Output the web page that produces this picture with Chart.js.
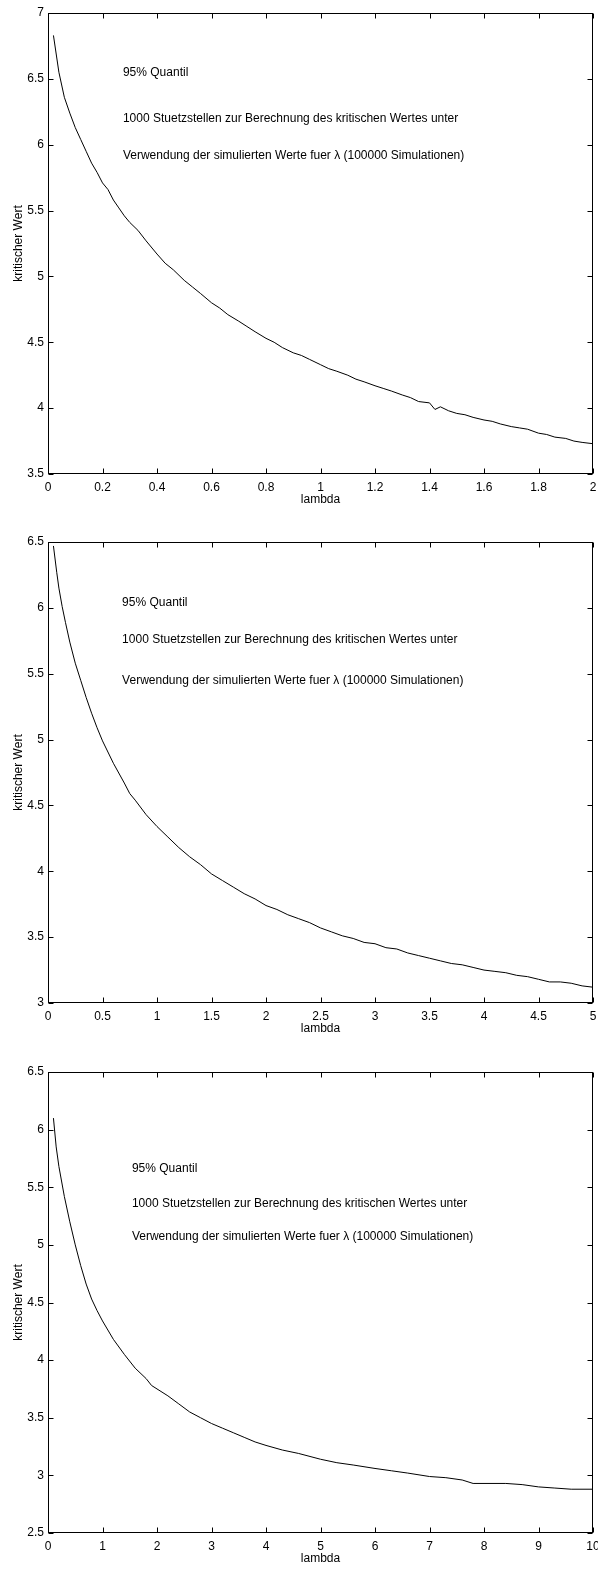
<!DOCTYPE html>
<html lang="de">
<head>
<meta charset="UTF-8">
<title>kritischer Wert</title>
<script src="https://cdn.jsdelivr.net/npm/chart.js"></script>
<style>
    body { margin: 0; background: #fff; }
    .panel { position: absolute; left: 0; width: 598px; height: 511px; }
</style>
</head>
<body>
<div class="panel" style="top:0px"><canvas id="c1" width="598" height="511"></canvas></div>
<div class="panel" style="top:529px"><canvas id="c2" width="598" height="511"></canvas></div>
<div class="panel" style="top:1059px"><canvas id="c3" width="598" height="511"></canvas></div>
<script>
// panel 1: lambda 0..2
const lam1 = [0.02, 0.04, 0.06, 0.08, 0.10, 0.12, 0.14, 0.16, 0.18, 0.20, 0.22, 0.24, 0.26, 0.28, 0.30, 0.33, 0.36, 0.40, 0.43, 0.46,
    0.50, 0.53, 0.56, 0.60, 0.63, 0.66, 0.70, 0.73, 0.76, 0.80, 0.83, 0.86, 0.90, 0.93, 0.96, 1.00, 1.03, 1.06, 1.10, 1.13,
    1.16, 1.20, 1.23, 1.26, 1.30, 1.33, 1.36, 1.40, 1.42, 1.44, 1.47, 1.50, 1.53, 1.56, 1.60, 1.63, 1.66, 1.70, 1.73, 1.76,
    1.80, 1.83, 1.86, 1.90, 1.93, 1.96, 2.00];
const krit1 = [6.83, 6.55, 6.36, 6.24, 6.13, 6.04, 5.95, 5.86, 5.79, 5.71, 5.66, 5.58, 5.52, 5.46, 5.41, 5.35, 5.27, 5.17, 5.10, 5.05,
    4.97, 4.92, 4.87, 4.80, 4.76, 4.71, 4.66, 4.62, 4.58, 4.53, 4.50, 4.46, 4.42, 4.40, 4.37, 4.33, 4.30, 4.28, 4.25, 4.22,
    4.20, 4.17, 4.15, 4.13, 4.10, 4.08, 4.05, 4.04, 3.99, 4.01, 3.98, 3.96, 3.95, 3.93, 3.91, 3.90, 3.88, 3.86, 3.85, 3.84,
    3.81, 3.80, 3.78, 3.77, 3.75, 3.74, 3.73];

// panel 2: lambda 0..5
const lam2 = [0.05, 0.08, 0.1, 0.13, 0.16, 0.2, 0.25, 0.3, 0.35, 0.4, 0.45, 0.5, 0.6, 0.7, 0.75, 0.8, 0.9, 1.0, 1.1, 1.2,
    1.3, 1.4, 1.5, 1.6, 1.7, 1.8, 1.9, 2.0, 2.1, 2.2, 2.3, 2.4, 2.5, 2.6, 2.7, 2.8, 2.9, 3.0, 3.1, 3.2,
    3.3, 3.4, 3.5, 3.6, 3.7, 3.8, 3.9, 4.0, 4.1, 4.2, 4.3, 4.4, 4.5, 4.6, 4.7, 4.8, 4.9, 5.0];
const krit2 = [6.47, 6.27, 6.15, 6.01, 5.89, 5.74, 5.58, 5.45, 5.32, 5.2, 5.09, 4.99, 4.82, 4.67, 4.59, 4.54, 4.43, 4.34, 4.26, 4.18,
    4.11, 4.05, 3.98, 3.93, 3.88, 3.83, 3.79, 3.74, 3.71, 3.67, 3.64, 3.61, 3.57, 3.54, 3.51, 3.49, 3.46, 3.45, 3.42, 3.41,
    3.38, 3.36, 3.34, 3.32, 3.30, 3.29, 3.27, 3.25, 3.24, 3.23, 3.21, 3.20, 3.18, 3.16, 3.16, 3.15, 3.13, 3.12];

// panel 3: lambda 0..10
const lam3 = [0.1, 0.15, 0.2, 0.3, 0.4, 0.5, 0.6, 0.7, 0.8, 0.9, 1.0, 1.2, 1.4, 1.6, 1.8, 1.9, 2.0, 2.2, 2.4, 2.6,
    2.8, 3.0, 3.2, 3.4, 3.6, 3.8, 4.0, 4.3, 4.6, 5.0, 5.3, 5.6, 6.0, 6.3, 6.6, 7.0, 7.3, 7.6, 7.8, 8.0,
    8.4, 8.7, 9.0, 9.3, 9.6, 10.0];
const krit3 = [6.1, 5.85, 5.68, 5.42, 5.2, 5.0, 4.82, 4.66, 4.53, 4.43, 4.34, 4.18, 4.05, 3.93, 3.84, 3.78, 3.75, 3.69, 3.62, 3.55,
    3.50, 3.45, 3.41, 3.37, 3.33, 3.29, 3.26, 3.22, 3.19, 3.14, 3.11, 3.09, 3.06, 3.04, 3.02, 2.99, 2.98, 2.96, 2.93, 2.93,
    2.93, 2.92, 2.90, 2.89, 2.88, 2.88];

const noteLines = [
    "95% Quantil",
    "1000 Stuetzstellen zur Berechnung des kritischen Wertes unter",
    "Verwendung der simulierten Werte fuer \u03bb (100000 Simulationen)"
];

const FONT = "'Liberation Sans', Arial, Helvetica, sans-serif";
Chart.defaults.font.family = FONT;
Chart.defaults.font.size = 12;
Chart.defaults.color = "#000";

// MATLAB style box with ticks pointing inwards + text notes
const boxPlugin = {
    id: "boxPlugin",
    afterDraw(chart) {
        const ctx = chart.ctx;
        const a = chart.chartArea;
        const xs = chart.scales.x, ys = chart.scales.y;
        const L = Math.round(a.left) + 0.5, R = Math.round(a.right) - 0.5;
        const T = Math.round(a.top) + 0.5, B = Math.round(a.bottom) - 0.5;
        ctx.save();
        ctx.strokeStyle = "#000";
        ctx.lineWidth = 1;
        ctx.strokeRect(L, T, R - L, B - T);
        ctx.beginPath();
        xs.ticks.forEach(t => {
            const px = Math.round(xs.getPixelForValue(t.value)) + 0.5;
            ctx.moveTo(px, B); ctx.lineTo(px, B - 5);
            ctx.moveTo(px, T); ctx.lineTo(px, T + 5);
        });
        ys.ticks.forEach(t => {
            const py = Math.round(ys.getPixelForValue(t.value)) + 0.5;
            ctx.moveTo(L, py); ctx.lineTo(L + 5, py);
            ctx.moveTo(R, py); ctx.lineTo(R - 5, py);
        });
        ctx.stroke();

        const n = chart.options.plugins.boxPlugin;
        ctx.fillStyle = "#000";
        ctx.font = "12px " + FONT;
        ctx.textAlign = "left";
        ctx.textBaseline = "middle";
        noteLines.forEach((s, i) => {
            ctx.fillText(s, xs.getPixelForValue(n.x), ys.getPixelForValue(n.y[i]));
        });
        ctx.restore();
    }
};

function fmt(v) {
    return String(Math.round(v * 10) / 10);
}

function makeChart(id, lam, krit, xMax, xStep, yMin, yMax, notes) {
    const pts = lam.map((x, i) => ({ x: x, y: krit[i] }));
    return new Chart(document.getElementById(id), {
        type: "line",
        data: {
            datasets: [{
                data: pts,
                borderColor: "#000",
                borderWidth: 1,
                pointRadius: 0,
                tension: 0,
                fill: false
            }]
        },
        options: {
            responsive: false,
            animation: false,
            layout: { padding: { top: 13, right: 5, left: 0, bottom: 0 } },
            plugins: {
                legend: { display: false },
                tooltip: { enabled: false },
                boxPlugin: notes
            },
            scales: {
                x: {
                    type: "linear",
                    min: 0, max: xMax,
                    grid: { display: false, drawTicks: false },
                    border: { display: false },
                    ticks: { stepSize: xStep, autoSkip: false, maxRotation: 0, padding: 6, callback: fmt },
                    title: { display: true, text: "lambda", padding: { top: 0, bottom: 4 } },
                    afterFit(s) {
                        s.height = 37;
                        s.paddingLeft = 0; s.paddingRight = 0;
                    }
                },
                y: {
                    min: yMin, max: yMax,
                    grid: { display: false, drawTicks: false },
                    border: { display: false },
                    ticks: { stepSize: 0.5, autoSkip: false, padding: 4, callback: fmt },
                    title: { display: true, text: "kritischer Wert", padding: { top: 11, bottom: 0 } },
                    afterFit(s) {
                        s.width = 48;
                        s.paddingTop = 0; s.paddingBottom = 0;
                    }
                }
            }
        },
        plugins: [boxPlugin]
    });
}

makeChart("c1", lam1, krit1, 2, 0.2, 3.5, 7, { x: 0.275, y: [6.55, 6.2, 5.92] });
makeChart("c2", lam2, krit2, 5, 0.5, 3, 6.5, { x: 0.68, y: [6.04, 5.76, 5.45] });
makeChart("c3", lam3, krit3, 10, 1, 2.5, 6.5, { x: 1.54, y: [5.66, 5.36, 5.07] });
</script>
</body>
</html>
